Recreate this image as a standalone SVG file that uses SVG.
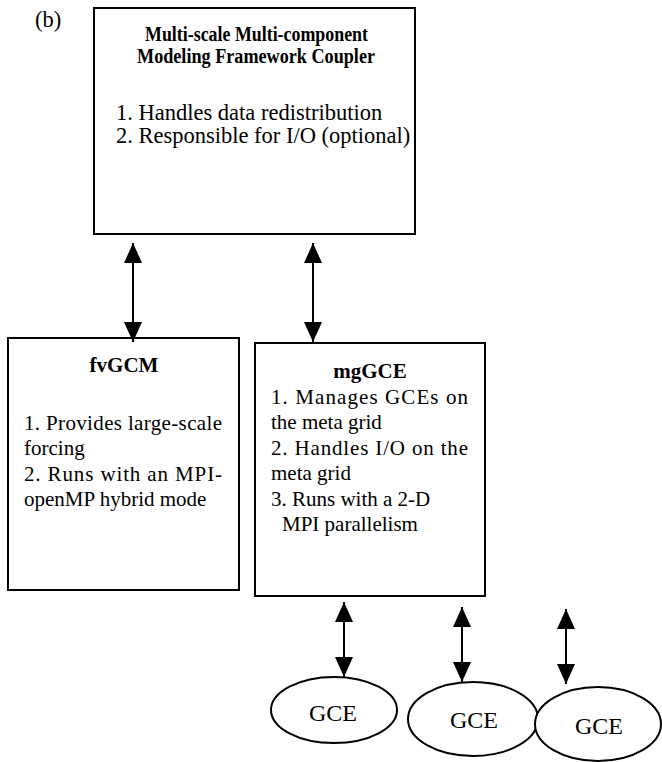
<svg xmlns="http://www.w3.org/2000/svg" width="662" height="762" viewBox="0 0 662 762">
<defs>
<style>
.box{fill:#fff;stroke:#000;stroke-width:2}
.ell{fill:#fff;stroke:#000;stroke-width:2}
.t{font-family:"Liberation Serif","Times New Roman",serif;font-size:21px;fill:#000}
.b{font-weight:bold}
.c{text-anchor:middle}
.big{font-size:22.5px}
.ttl{font-size:20.5px}
.g{font-size:24px}
.conn{stroke:#000;stroke-width:2;fill:none;marker-start:url(#ah);marker-end:url(#ah)}
</style>
<marker id="ah" markerUnits="userSpaceOnUse" markerWidth="20" markerHeight="18" viewBox="0 0 20 18" refX="20" refY="9" orient="auto-start-reverse">
<path d="M0,0 L20,9 L0,18 Z" fill="#000"/>
</marker>
</defs>
<rect width="662" height="762" fill="#fff"/>
<text class="t big" x="35" y="27">(b)</text>
<g id="coupler">
<rect class="box" x="94" y="8" width="321" height="226"/>
<text class="t b ttl" x="145" y="41" textLength="223" lengthAdjust="spacingAndGlyphs">Multi-scale Multi-component</text>
<text class="t b ttl" x="137" y="63" textLength="238" lengthAdjust="spacingAndGlyphs">Modeling Framework Coupler</text>
<text class="t big" x="116" y="120">1. Handles data redistribution</text>
<text class="t big" x="116" y="143">2. Responsible for I/O (optional)</text>
</g>
<g id="fvgcm">
<rect class="box" x="8" y="338" width="231" height="252"/>
<text class="t b c" x="124" y="372">fvGCM</text>
<text class="t" x="24" y="430" textLength="198" lengthAdjust="spacing">1. Provides large-scale</text>
<text class="t" x="24" y="455">forcing</text>
<text class="t" x="24" y="481" textLength="198" lengthAdjust="spacing">2. Runs with an MPI-</text>
<text class="t" x="24" y="506">openMP hybrid mode</text>
</g>
<g id="mggce">
<rect class="box" x="255" y="343" width="230" height="253"/>
<text class="t b c" x="370" y="378">mgGCE</text>
<text class="t" x="271" y="404" textLength="197" lengthAdjust="spacing">1. Manages GCEs on</text>
<text class="t" x="271" y="429">the  meta grid</text>
<text class="t" x="271" y="455" textLength="197" lengthAdjust="spacing">2. Handles I/O on the</text>
<text class="t" x="271" y="480">meta grid</text>
<text class="t" x="271" y="506">3. Runs with a 2-D</text>
<text class="t" x="282" y="531">MPI parallelism</text>
</g>
<g id="gce1">
<ellipse class="ell" cx="334" cy="710" rx="63" ry="33"/>
<text class="t c g" x="333" y="721">GCE</text>
</g>
<g id="gce2">
<ellipse class="ell" cx="473" cy="719" rx="65" ry="37"/>
<text class="t c g" x="474" y="728">GCE</text>
</g>
<g id="gce3">
<ellipse class="ell" cx="598" cy="724" rx="63" ry="37"/>
<text class="t c g" x="599" y="734">GCE</text>
</g>
<g id="connectors">
<line class="conn" x1="133" y1="243" x2="133" y2="342"/>
<line class="conn" x1="313" y1="243" x2="313" y2="342"/>
<line class="conn" x1="344" y1="602" x2="344" y2="677"/>
<line class="conn" x1="462" y1="607" x2="462" y2="682"/>
<line class="conn" x1="566" y1="609" x2="566" y2="684"/>
</g>
</svg>
